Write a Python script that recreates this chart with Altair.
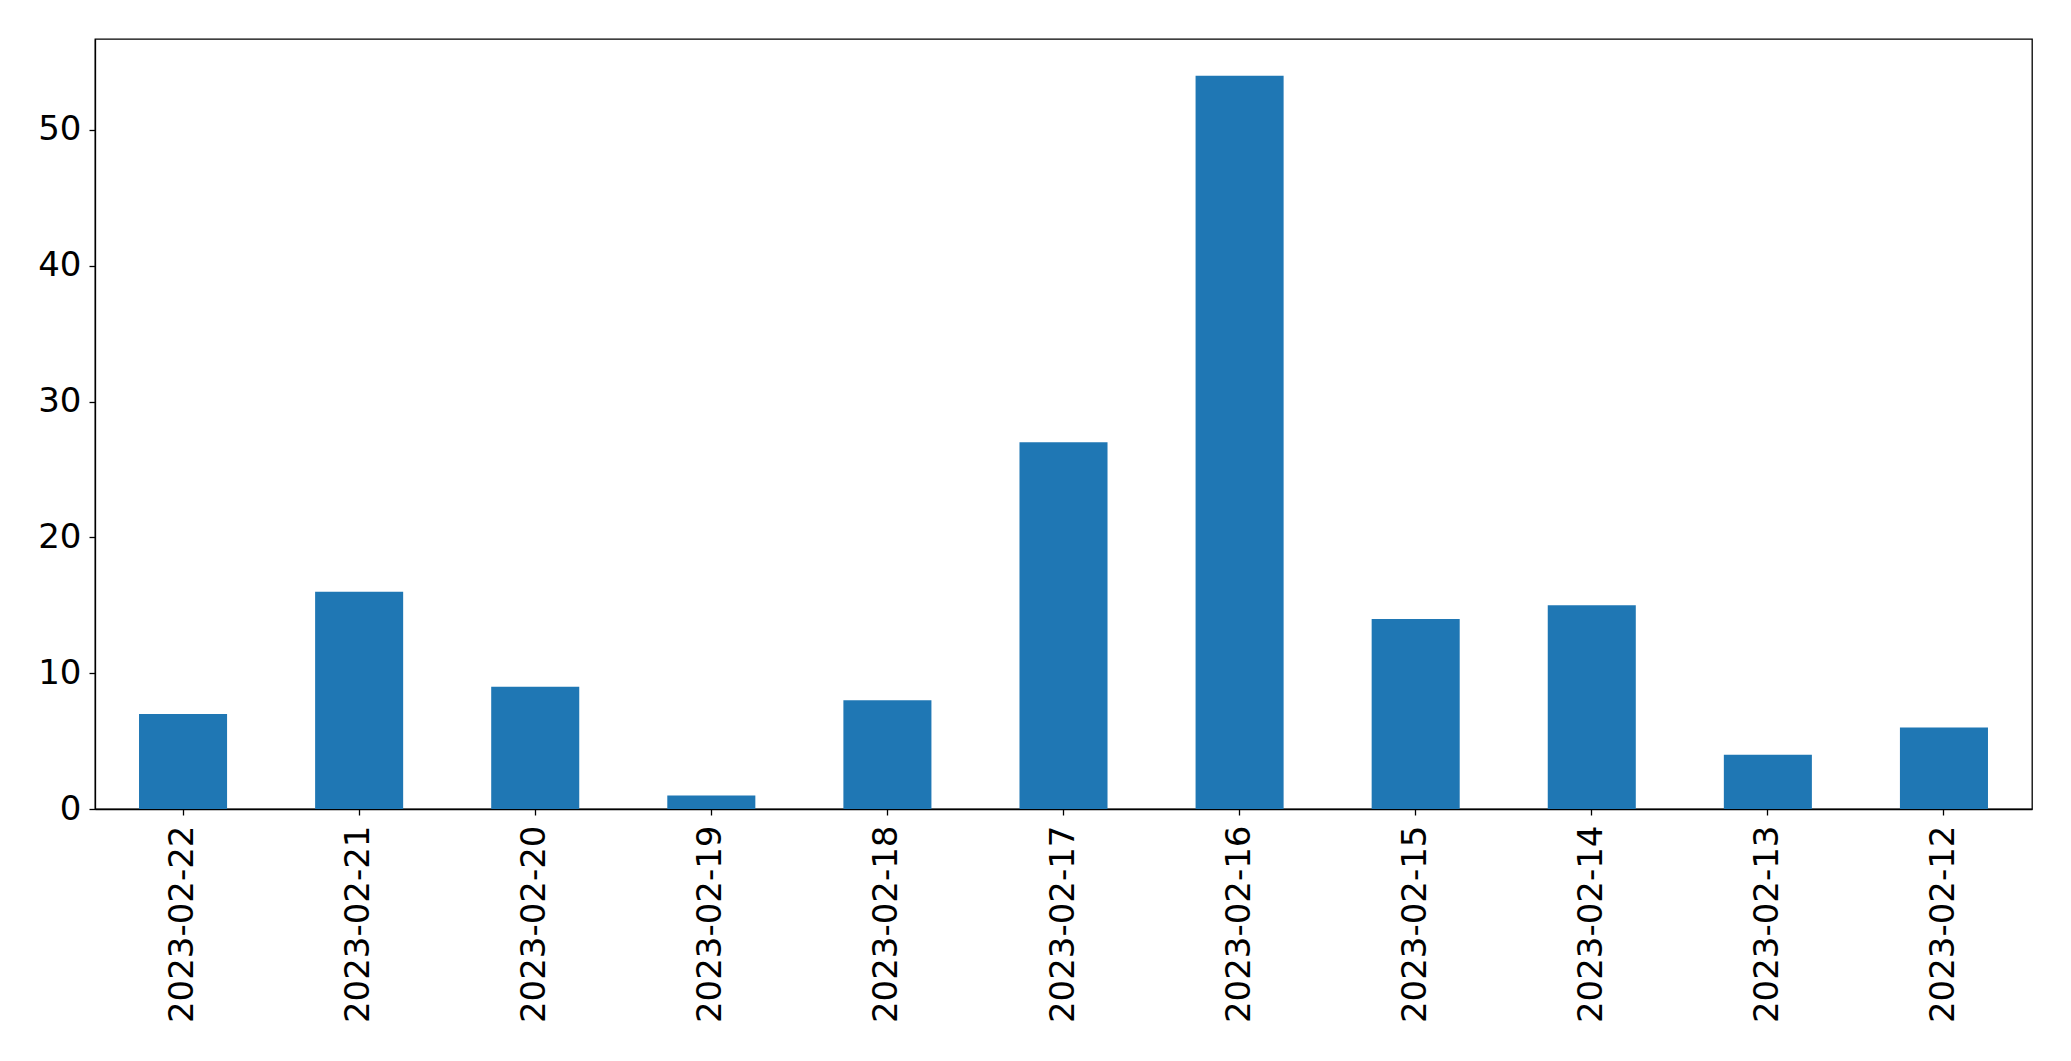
import altair as alt
import pandas as pd

dates = ["2023-02-22", "2023-02-21", "2023-02-20", "2023-02-19", "2023-02-18",
         "2023-02-17", "2023-02-16", "2023-02-15", "2023-02-14", "2023-02-13", "2023-02-12"]
counts = [7, 16, 9, 1, 8, 27, 54, 14, 15, 4, 6]

df = pd.DataFrame({"date": dates, "count": counts})

chart = alt.Chart(df).mark_bar(color="#1f77b4").encode(
    x=alt.X("date:N", sort=dates, title=None,
            scale=alt.Scale(paddingInner=0.5, paddingOuter=0.25),
            axis=alt.Axis(labelAngle=-90, labelAlign="right", labelBaseline="middle",
                          labelPadding=10, tickSize=6, labelFontSize=34, labelLimit=0,
                          labelFont="DejaVu Sans", labelColor="black",
                          tickColor="black", domainColor="black", tickWidth=1.3,
                          domainWidth=1.3)),
    y=alt.Y("count:Q", title=None,
            scale=alt.Scale(domain=[0, 56.7], nice=False, zero=True),
            axis=alt.Axis(values=[0, 10, 20, 30, 40, 50], grid=False, tickSize=6,
                          labelPadding=8, labelFontSize=34, labelFont="DejaVu Sans",
                          labelColor="black", tickColor="black", domainColor="black",
                          tickWidth=1.3, domainWidth=1.3)),
).properties(
    width=1937, height=770,
    autosize=alt.AutoSizeParams(type="none"),
    padding={"left": 87, "top": 31, "right": 30, "bottom": 230},
    background="white",
).configure_view(stroke="black", strokeWidth=1.3)

chart.save("out.html", embed_options={"renderer": "svg", "actions": False})
